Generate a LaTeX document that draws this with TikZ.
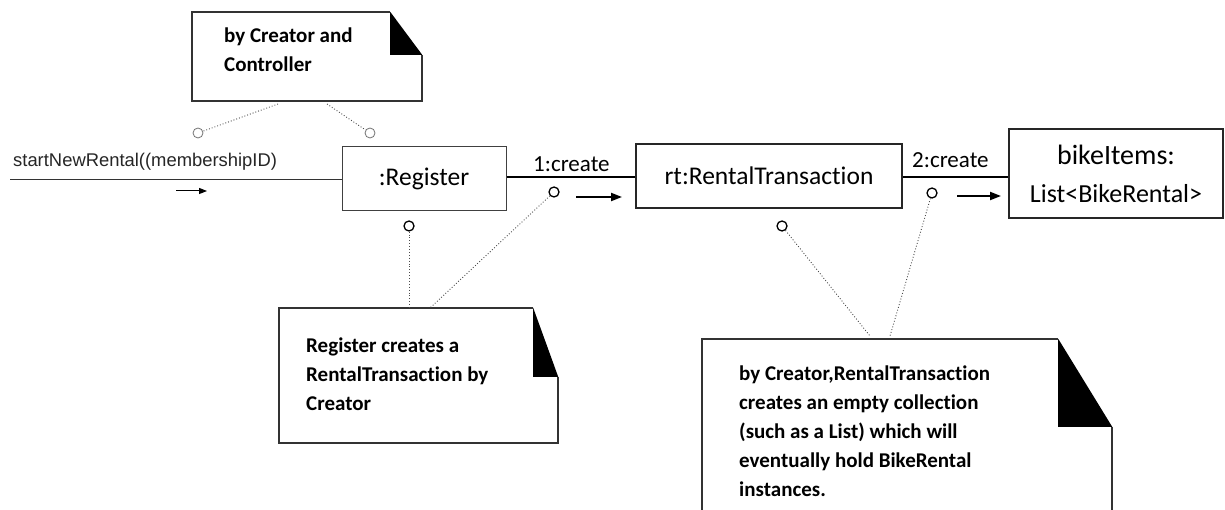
\documentclass[tikz,border=0pt]{standalone}
\usepackage{fontspec}
\setmainfont{Carlito}[Ligatures=NoCommon]
\newfontfamily\arialf{Liberation Sans}
\usetikzlibrary{arrows.meta,calc}
\begin{document}
\begin{tikzpicture}[x=1pt,y=-1pt,
 obj/.style={draw=black!85, rectangle, inner sep=0pt, line width=1.7pt},
 circ/.style={draw, circle, inner sep=0pt, minimum size=10pt, line width=1.3pt},
 tcirc/.style={draw=black!55, circle, inner sep=0pt, minimum size=10pt, line width=0.8pt},
 dotl/.style={dotted, line width=0.9pt, draw=black!70},
 noteframe/.style={rectangle, inner sep=0pt, draw=none},
 notebd/.style={line width=2pt, draw=black!80, line join=miter},
 notetxt/.style={font=\bfseries\fontsize{21}{29}\selectfont, align=left, inner sep=0pt, anchor=north west},
 msg/.style={font=\fontsize{23}{28}\selectfont, inner sep=0pt, anchor=base west},
 smallarr/.style={-{Triangle[length=8pt,width=6pt]}, line width=1pt},
 bigarr/.style={-{Triangle[length=11pt,width=8pt]}, line width=2pt},
]
\fill[white] (0,0) rectangle (1225,510);
\useasboundingbox (0,0) rectangle (1225,510);

% objects
\node[obj, draw=black!75, line width=1pt, minimum width=164pt, minimum height=64pt,
      font=\fontsize{25.5}{30}\selectfont] (reg) at (424,179) {\raisebox{2pt}{:Register}};
\node[obj, minimum width=266pt, minimum height=64pt,
      font=\fontsize{25.5}{30}\selectfont] (rt) at (769,176) {rt:RentalTransaction};
\node[obj, minimum width=214pt, minimum height=89pt, align=center,
      font=\fontsize{26}{38}\selectfont] (bike) at (1116,173.5)
      {{\fontsize{28}{38}\selectfont bikeItems:}\\List<BikeRental>};

% incoming message
\coordinate (start) at (10,180);
\draw[line width=1pt, black!80] (start) -- (start -| reg.west);
\node[inner sep=0pt, anchor=base west, font=\arialf\fontsize{18.4}{22}\selectfont, text=black!85]
  (startlbl) at (13,167) {startNewRental((membershipID)};
\coordinate (a0s) at (176,191);
\coordinate (a0e) at (207,191);
\draw[smallarr] (a0s) -- (a0e);

% links
\draw[line width=1.7pt] (reg.east |- 0,177) -- (rt.west |- 0,177);
\draw[line width=1.7pt] (rt.east |- 0,177) -- (bike.west |- 0,177);
\node[msg] (m1) at (533,172) {1:create};
\node[msg] (m2) at (912,168) {2:create};
\coordinate (a1s) at (576,197);
\coordinate (a1e) at (622,197);
\draw[bigarr] (a1s) -- (a1e);
\coordinate (a2s) at (957,196);
\coordinate (a2e) at (1001,196);
\draw[bigarr] (a2s) -- (a2e);

% circles
\node[tcirc] (ct1) at (198,133) {};
\node[tcirc] (ct2) at (370,133) {};
\node[circ] (c1) at (554,192) {};
\node[circ] (c2) at (409,226) {};
\node[circ] (c3) at (782,226) {};
\node[circ] (c4) at (932,193) {};

% note 1
\node[noteframe, minimum width=230pt, minimum height=89pt] (n1) at (307,56.5) {};
\draw[notebd, line width=1.6pt] ($(n1.north east)+(-32,0)$) -- (n1.north west) -- (n1.south west)
   -- (n1.south east) -- ($(n1.north east)+(0,43)$);
\fill ($(n1.north east)+(-32,0)$) -- ($(n1.north east)+(0,43)$) -- ($(n1.north east)+(-32,43)$) -- cycle;
\node[notetxt] (t1) at (224,27.3) {by Creator and\\Controller};
\coordinate (n1a) at (278,104);
\coordinate (n1b) at (327,104);
\draw[dotl] (n1a) -- (ct1);
\draw[dotl] (n1b) -- (ct2);

% note 2
\node[noteframe, minimum width=279pt, minimum height=135pt] (n2) at (418.5,375.5) {};
\draw[notebd] ($(n2.north east)+(-25,0)$) -- (n2.north west) -- (n2.south west)
   -- (n2.south east) -- ($(n2.north east)+(0,69)$);
\fill ($(n2.north east)+(-25,0)$) -- ($(n2.north east)+(0,69)$) -- ($(n2.north east)+(-25,69)$) -- cycle;
\node[notetxt] (t2) at (306,337.5) {Register creates a\\RentalTransaction by\\Creator};
\draw[dotl] (c2) -- (c2 |- n2.north);
\coordinate (n2b) at (430,308);
\draw[dotl] (c1) -- (n2b);

% note 3
\node[noteframe, minimum width=410pt, minimum height=171pt] (n3) at (907,424.5) {};
\draw[notebd, line width=2.4pt] ($(n3.north east)+(-54,0)$) -- (n3.north west) -- (n3.south west);
\draw[notebd, line width=2.4pt] ($(n3.north east)+(0,88)$) -- (n3.south east);
\fill ($(n3.north east)+(-54,0)$) -- ($(n3.north east)+(0,88)$) -- ($(n3.north east)+(-54,88)$) -- cycle;
\node[notetxt] (t3) at (739,365.3) {by Creator,RentalTransaction\\creates an empty collection\\(such as a List) which will\\eventually hold BikeRental\\instances.};
\coordinate (n3a) at (870,336);
\coordinate (n3b) at (890,336);
\draw[dotl] (c3) -- (n3a);
\draw[dotl] (c4) -- (n3b);
\end{tikzpicture}
\end{document}
